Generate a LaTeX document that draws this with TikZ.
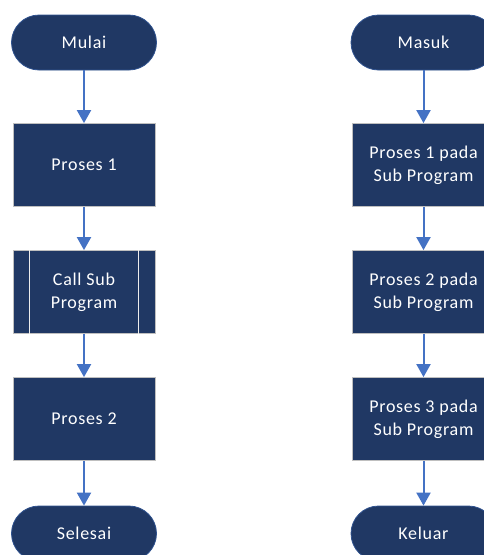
\documentclass[tikz,border=0pt]{standalone}
\usepackage{fontspec}
\setmainfont{Carlito}
\newfontfamily\kotak{Carlito}[LetterSpace=4]
\usepackage{xcolor}
\usetikzlibrary{arrows.meta}
\definecolor{navy}{HTML}{203864}
\definecolor{tepi}{HTML}{2F528F}
\definecolor{garis}{HTML}{4472C4}

\begin{document}
\begin{tikzpicture}[x=1pt, y=-1pt,
    terminal/.style={draw=tepi, fill=navy, text=white, line width=0.8pt,
        minimum width=145pt, minimum height=55pt, rounded corners=27.5pt,
        font=\kotak\fontsize{18}{23}\selectfont},
    proses/.style={draw=gray!50, fill=navy, text=white, line width=0.8pt,
        minimum width=142pt, minimum height=83pt, align=center,
        font=\kotak\fontsize{18}{23}\selectfont},
    panah/.style={garis, line width=2pt, -{Triangle[width=14pt,length=13pt]}}]

    % The page is the 483 x 555 window; the right column runs past its edge
    \useasboundingbox (0,0) rectangle (483,555);

    \def\kiri{84}
    \def\kanan{423.5}

    % Main program
    \node[terminal] (mulai) at (\kiri,42.5) {Mulai};
    \node[proses] (p1) at (\kiri,165) {Proses 1};
    \node[proses] (call) at (\kiri,292) {Call Sub\\Program};
    \node[proses] (p2) at (\kiri,419) {Proses 2};
    \node[terminal] (selesai) at (\kiri,533.5) {Selesai};

    % Side bars of the predefined process
    \draw[white!85!gray, line width=0.8pt]
        ([xshift=17pt]call.north west) -- ([xshift=17pt]call.south west);
    \draw[white!85!gray, line width=0.8pt]
        ([xshift=-17pt]call.north east) -- ([xshift=-17pt]call.south east);

    % Sub program
    \node[terminal] (masuk) at (\kanan,42.5) {Masuk};
    \node[proses] (s1) at (\kanan,165) {Proses 1 pada\\Sub Program};
    \node[proses] (s2) at (\kanan,292) {Proses 2 pada\\Sub Program};
    \node[proses] (s3) at (\kanan,419) {Proses 3 pada\\Sub Program};
    \node[terminal] (keluar) at (\kanan,533.5) {Keluar};

    % Flow
    \draw[panah] (mulai) -- (p1);
    \draw[panah] (p1) -- (call);
    \draw[panah] (call) -- (p2);
    \draw[panah] (p2) -- (selesai);
    \draw[panah] (masuk) -- (s1);
    \draw[panah] (s1) -- (s2);
    \draw[panah] (s2) -- (s3);
    \draw[panah] (s3) -- (keluar);

\end{tikzpicture}
\end{document}
